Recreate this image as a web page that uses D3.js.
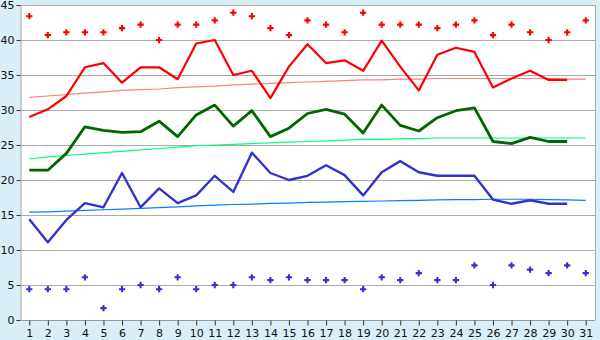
<!DOCTYPE html>
<html>
<head>
<meta charset="utf-8">
<script src="https://cdn.jsdelivr.net/npm/d3@7/dist/d3.min.js"></script>
<style>
  html, body { margin: 0; padding: 0; background: #d9eef6; }
  svg { display: block; font-family: "DejaVu Sans", Verdana, sans-serif; }
</style>
</head>
<body>
<svg id="chart" width="600" height="340"></svg>
<script>
// days of the month
var days = d3.range(1, 32);
var yTicks = [0, 5, 10, 15, 20, 25, 30, 35, 40, 45];

// daily values (days 1..30)
var maxLine = [29.0, 30.1, 32.0, 36.1, 36.7, 33.9, 36.1, 36.1, 34.4, 39.5,
  40.0, 35.0, 35.6, 31.7, 36.2, 39.4, 36.7, 37.1, 35.6, 39.9,
  36.2, 32.8, 37.9, 38.9, 38.3, 33.2, 34.5, 35.6, 34.3, 34.3];
var meanLine = [21.4, 21.4, 23.8, 27.6, 27.1, 26.8, 26.9, 28.4, 26.2, 29.3,
  30.7, 27.7, 29.9, 26.2, 27.4, 29.5, 30.1, 29.4, 26.7, 30.7,
  27.8, 27.0, 28.9, 29.9, 30.3, 25.5, 25.2, 26.1, 25.5, 25.5];
var minLine = [14.4, 11.1, 14.3, 16.7, 16.1, 21.0, 16.1, 18.8, 16.7, 17.8,
  20.6, 18.3, 23.9, 21.0, 20.0, 20.6, 22.1, 20.7, 17.8, 21.1,
  22.7, 21.1, 20.6, 20.6, 20.6, 17.2, 16.6, 17.1, 16.6, 16.6];

// normal curves (days 1..31)
var maxNormal = [31.8, 32.0, 32.2, 32.4, 32.6, 32.8, 32.9, 33.0, 33.2, 33.3,
  33.4, 33.6, 33.7, 33.8, 33.9, 34.0, 34.1, 34.2, 34.3, 34.3,
  34.4, 34.4, 34.5, 34.5, 34.5, 34.5, 34.5, 34.5, 34.5, 34.4, 34.4];
var meanNormal = [23.0, 23.3, 23.5, 23.7, 23.9, 24.1, 24.3, 24.5, 24.7, 24.9,
  25.0, 25.1, 25.2, 25.3, 25.4, 25.5, 25.6, 25.7, 25.8, 25.8,
  25.9, 25.9, 26.0, 26.0, 26.0, 26.0, 26.0, 26.0, 26.0, 26.0, 26.0];
var minNormal = [15.4, 15.45, 15.55, 15.65, 15.75, 15.85, 15.95, 16.05, 16.15, 16.3,
  16.4, 16.5, 16.55, 16.65, 16.7, 16.8, 16.85, 16.9, 16.95, 17.0,
  17.05, 17.1, 17.15, 17.2, 17.2, 17.25, 17.25, 17.25, 17.2, 17.15, 17.1];

// daily extremes (days 1..31)
var maxPoints = [43.4, 40.7, 41.1, 41.1, 41.1, 41.7, 42.2, 40.0, 42.2, 42.2,
  42.8, 43.9, 43.4, 41.7, 40.7, 42.8, 42.2, 41.1, 43.9, 42.2,
  42.2, 42.2, 41.7, 42.2, 42.8, 40.7, 42.2, 41.1, 40.0, 41.1, 42.8];
var minPoints = [4.4, 4.4, 4.4, 6.1, 1.7, 4.4, 5.0, 4.4, 6.1, 4.4,
  5.0, 5.0, 6.1, 5.7, 6.1, 5.7, 5.7, 5.7, 4.4, 6.1,
  5.7, 6.7, 5.7, 5.7, 7.8, 5.0, 7.8, 7.2, 6.7, 7.8, 6.7];

(function () {
  var svg = d3.select('#chart');
  var plotLeft = 20, plotRight = 595, plotTop = 5, plotBottom = 320;

  var x = d3.scaleLinear().domain([0.5, 31.5]).range([plotLeft, plotRight]);
  var y = d3.scaleLinear().domain([0, 45]).range([plotBottom, plotTop]);

  svg.append('rect')
    .attr('x', plotLeft).attr('y', plotTop)
    .attr('width', plotRight - plotLeft).attr('height', plotBottom - plotTop)
    .attr('fill', '#ffffff');

  // grid
  svg.append('g')
    .selectAll('line')
    .data(yTicks.filter(function (d) { return d > 0; }))
    .join('line')
    .attr('x1', plotLeft).attr('x2', plotRight)
    .attr('y1', function (d) { return Math.round(y(d)) + 0.5; })
    .attr('y2', function (d) { return Math.round(y(d)) + 0.5; })
    .attr('stroke', '#aaaaaa')
    .attr('shape-rendering', 'crispEdges');

  svg.append('line')
    .attr('x1', plotRight + 0.5).attr('x2', plotRight + 0.5)
    .attr('y1', plotTop).attr('y2', plotBottom)
    .attr('stroke', '#aaaaaa')
    .attr('shape-rendering', 'crispEdges');

  // axes
  var yAxis = d3.axisLeft(y).tickValues(yTicks).tickSize(4).tickPadding(2);
  var gy = svg.append('g')
    .attr('transform', 'translate(' + (plotLeft + 0.5) + ',0)')
    .call(yAxis);

  var xAxis = d3.axisBottom(x).tickValues(days).tickSize(5).tickPadding(4)
    .tickFormat(d3.format('d'));
  var gx = svg.append('g')
    .attr('transform', 'translate(0,' + (plotBottom + 0.5) + ')')
    .call(xAxis);

  [gx, gy].forEach(function (g) {
    g.select('.domain').attr('stroke', '#999999');
    g.selectAll('.tick line').attr('stroke', '#333333');
    g.selectAll('text')
      .attr('fill', '#111111')
      .style('font-size', '11px')
      .style('font-family', '"DejaVu Sans", Verdana, sans-serif');
  });
  gx.select('.domain').attr('d', 'M' + plotLeft + ',0H' + plotRight);

  function lineFor(values) {
    return d3.line()
      .x(function (d, i) { return x(days[i]); })
      .y(function (d) { return y(d); })(values);
  }

  // normals
  var normals = [
    { values: maxNormal, color: '#ff8080' },
    { values: meanNormal, color: '#00ff80' },
    { values: minNormal, color: '#0080ff' }
  ];
  svg.append('g')
    .selectAll('path')
    .data(normals)
    .join('path')
    .attr('d', function (d) { return lineFor(d.values); })
    .attr('fill', 'none')
    .attr('stroke', function (d) { return d.color; })
    .attr('stroke-width', 1.2);

  // daily lines
  var series = [
    { values: maxLine, color: '#ff0000', width: 2.2 },
    { values: meanLine, color: '#006600', width: 2.8 },
    { values: minLine, color: '#3333cc', width: 2.4 }
  ];
  svg.append('g')
    .selectAll('path')
    .data(series)
    .join('path')
    .attr('d', function (d) { return lineFor(d.values); })
    .attr('fill', 'none')
    .attr('stroke', function (d) { return d.color; })
    .attr('stroke-width', function (d) { return d.width; })
    .attr('stroke-linejoin', 'round');

  // extremes markers
  var marker = d3.symbol().type(d3.symbolCross).size(22);
  var pointSets = [
    { values: maxPoints, color: '#ff0000' },
    { values: minPoints, color: '#3333cc' }
  ];
  pointSets.forEach(function (set) {
    svg.append('g')
      .selectAll('path')
      .data(set.values)
      .join('path')
      .attr('d', marker)
      .attr('transform', function (d, i) {
        return 'translate(' + x(days[i]) + ',' + y(d) + ')';
      })
      .attr('fill', set.color);
  });
})();
</script>
</body>
</html>
